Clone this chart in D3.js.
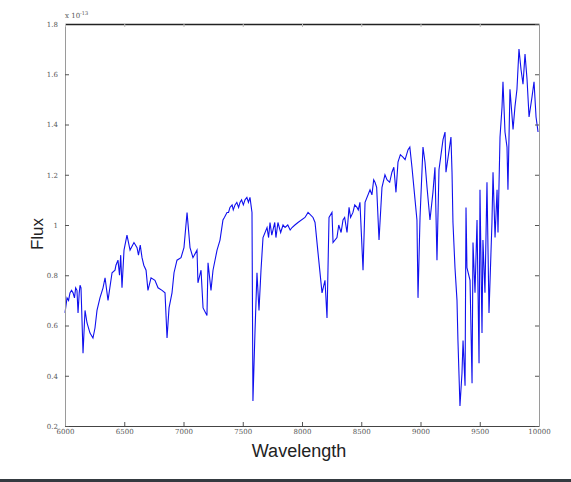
<!DOCTYPE html>
<html>
<head>
<meta charset="utf-8">
<script src="https://cdn.jsdelivr.net/npm/d3@7"></script>
<style>
  body { margin: 0; background: #fff; }
  svg { display: block; }
</style>
</head>
<body>
<svg></svg>
<script>
'use strict';
// spectrum (wavelength in A, flux in units of 1e-13)
var wavelength = [6000,6017,6030,6042,6055,6068,6080,6090,6101,6110,6120,6127,6135,6152,6169,6186,6211,6236,6253,6270,
    6295,6321,6338,6363,6397,6422,6430,6447,6460,6470,6481,6498,6523,6549,6582,6608,6620,6635,6650,6665,
    6684,6700,6726,6759,6785,6819,6844,6861,6878,6903,6920,6945,6979,7004,7030,7055,7080,7114,7122,7148,
    7165,7198,7207,7232,7249,7283,7308,7333,7345,7367,7380,7392,7410,7420,7435,7450,7465,7477,7490,7505,
    7519,7535,7548,7561,7578,7586,7603,7620,7637,7654,7671,7705,7718,7730,7745,7755,7770,7780,7797,7820,
    7840,7857,7880,7900,7916,7940,7966,8025,8051,8093,8110,8135,8169,8194,8211,8228,8253,8262,8295,8310,
    8330,8346,8360,8380,8397,8410,8430,8445,8464,8475,8489,8515,8532,8574,8590,8605,8616,8630,8650,8675,
    8700,8717,8740,8759,8775,8793,8810,8830,8852,8870,8895,8910,8928,8954,8970,8979,8996,9021,9038,9055,
    9080,9105,9122,9139,9156,9190,9207,9215,9257,9266,9274,9291,9308,9316,9333,9350,9359,9376,9384,9392,
    9418,9435,9443,9460,9477,9494,9502,9519,9527,9544,9561,9578,9603,9612,9629,9646,9654,9671,9688,9696,
    9713,9730,9738,9755,9781,9797,9814,9831,9848,9865,9882,9899,9916,9941,9958,9975,9992];
var flux = [0.65,0.71,0.70,0.73,0.74,0.73,0.71,0.75,0.74,0.65,0.73,0.76,0.75,0.49,0.66,0.61,0.57,0.55,0.59,0.66,
    0.71,0.75,0.79,0.70,0.81,0.82,0.84,0.86,0.80,0.88,0.75,0.90,0.96,0.90,0.93,0.91,0.88,0.92,0.87,0.84,
    0.82,0.74,0.79,0.78,0.75,0.74,0.73,0.55,0.67,0.73,0.81,0.86,0.87,0.91,1.05,0.91,0.87,0.90,0.77,0.82,
    0.67,0.64,0.85,0.74,0.82,0.90,0.94,1.02,1.03,1.05,1.05,1.07,1.08,1.06,1.08,1.09,1.07,1.09,1.10,1.08,
    1.10,1.11,1.09,1.11,1.05,0.30,0.57,0.81,0.66,0.82,0.95,0.99,0.95,1.01,0.96,0.98,1.01,0.95,1.01,0.97,
    1.00,0.99,1.00,0.98,0.99,1.00,1.01,1.03,1.05,1.03,1.01,0.89,0.73,0.78,0.63,1.03,1.05,0.93,0.95,1.00,
    0.97,1.02,1.03,0.97,1.07,1.03,1.05,1.08,1.07,1.06,1.09,0.82,1.09,1.14,1.12,1.18,1.17,1.15,0.94,1.15,
    1.20,1.18,1.17,1.21,1.23,1.13,1.25,1.28,1.27,1.26,1.30,1.31,1.23,1.10,1.02,0.71,1.03,1.31,1.25,1.15,
    1.02,1.13,1.23,0.86,1.22,1.34,1.37,1.21,1.35,1.21,1.01,0.83,0.70,0.54,0.28,0.41,0.54,0.36,1.07,0.83,
    0.78,0.37,0.93,0.73,1.02,0.45,1.14,0.57,0.94,0.73,1.17,0.65,1.01,1.21,0.95,1.14,0.97,1.35,1.47,1.57,
    1.37,1.31,1.14,1.54,1.38,1.47,1.54,1.70,1.62,1.56,1.68,1.58,1.43,1.51,1.57,1.43,1.37];
var xTicks = [6000,6500,7000,7500,8000,8500,9000,9500,10000];
var yTicks = [0.2,0.4,0.6,0.8,1,1.2,1.4,1.6,1.8];

var width = 571, height = 482;
var plot = {left: 65, right: 539, top: 24, bottom: 426};

var svg = d3.select('svg')
    .attr('width', width)
    .attr('height', height);

var xScale = d3.scaleLinear().domain([6000, 10000]).range([plot.left, plot.right]);
var yScale = d3.scaleLinear().domain([0.2, 1.8]).range([plot.bottom, plot.top]);

// spectrum line
var points = wavelength.map(function (w, i) { return [w, flux[i]]; });
svg.append('path')
    .datum(points)
    .attr('fill', 'none')
    .attr('stroke', '#1010ee')
    .attr('stroke-width', 1.1)
    .attr('d', d3.line()
        .x(function (d) { return xScale(d[0]); })
        .y(function (d) { return yScale(d[1]); }));

// axes, matlab style: ticks point inward
function styleAxis(g, color) {
    g.select('.domain').attr('stroke', color);
    g.selectAll('.tick line').attr('stroke', '#555');
    g.selectAll('.tick text')
        .attr('fill', '#555')
        .style('font-family', 'DejaVu Serif, serif')
        .style('font-size', '7px');
}

var bottomAxis = svg.append('g')
    .attr('transform', 'translate(0,' + plot.bottom + ')')
    .call(d3.axisBottom(xScale).tickValues(xTicks).tickSizeInner(-4).tickSizeOuter(0).tickPadding(3)
        .tickFormat(function (d) { return String(d); }));
styleAxis(bottomAxis, '#444');

var leftAxis = svg.append('g')
    .attr('transform', 'translate(' + plot.left + ',0)')
    .call(d3.axisLeft(yScale).tickValues(yTicks).tickSizeInner(-4).tickSizeOuter(0).tickPadding(7)
        .tickFormat(function (d) { return String(d); }));
styleAxis(leftAxis, '#9a9a9a');

var topAxis = svg.append('g')
    .attr('transform', 'translate(0,' + plot.top + ')')
    .call(d3.axisTop(xScale).tickValues(xTicks).tickSizeInner(-3).tickSizeOuter(0).tickFormat(''));
styleAxis(topAxis, '#222');
topAxis.select('.domain').attr('stroke-width', 1.6);
topAxis.selectAll('.tick line').attr('stroke', '#bbb');

var rightAxis = svg.append('g')
    .attr('transform', 'translate(' + plot.right + ',0)')
    .call(d3.axisRight(yScale).tickValues(yTicks).tickSizeInner(-4).tickSizeOuter(0).tickFormat(''));
styleAxis(rightAxis, '#9a9a9a');

// exponent label
var expo = svg.append('text')
    .attr('x', plot.left)
    .attr('y', 18)
    .attr('fill', '#555')
    .style('font-family', 'DejaVu Serif, serif')
    .style('font-size', '7px')
    .text('x 10');
expo.append('tspan')
    .attr('dy', -3)
    .style('font-size', '5px')
    .text('-13');

// axis titles
svg.append('text')
    .attr('x', 299)
    .attr('y', 457)
    .attr('text-anchor', 'middle')
    .attr('fill', '#222')
    .style('font-family', 'Liberation Sans, Arial, sans-serif')
    .style('font-size', '18px')
    .text('Wavelength');

svg.append('text')
    .attr('transform', 'translate(43,234) rotate(-90)')
    .attr('text-anchor', 'middle')
    .attr('fill', '#222')
    .style('font-family', 'Liberation Sans, Arial, sans-serif')
    .style('font-size', '17px')
    .text('Flux');

// dark rule along the bottom edge
svg.append('rect')
    .attr('x', 0)
    .attr('y', 479)
    .attr('width', width)
    .attr('height', 3)
    .attr('fill', '#343a40');
</script>
</body>
</html>
